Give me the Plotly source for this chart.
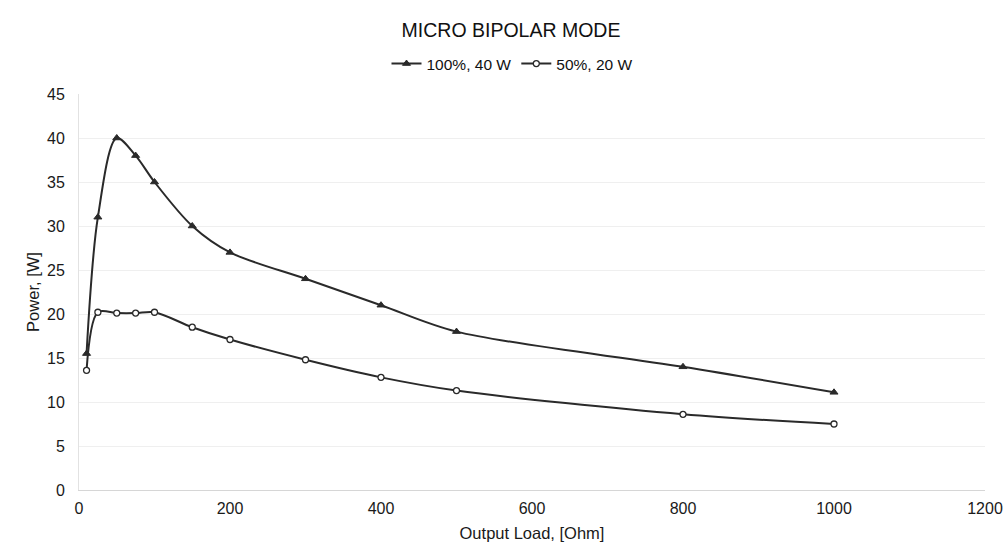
import plotly.graph_objects as go

load_ohm = [10, 25, 50, 75, 100, 150, 200, 300, 400, 500, 800, 1000]
power_100 = [15.5, 31, 40, 38, 35, 30, 27, 24, 21, 18, 14, 11.1]
power_50 = [13.6, 20.2, 20.1, 20.1, 20.2, 18.5, 17.1, 14.8, 12.8, 11.3, 8.6, 7.5]

x_ticks = [0, 200, 400, 600, 800, 1000, 1200]
y_ticks = [0, 5, 10, 15, 20, 25, 30, 35, 40, 45]

line_color = "#2a2a2a"
font_family = "Liberation Sans, Arial, sans-serif"

fig = go.Figure()
fig.add_trace(go.Scatter(
    x=load_ohm, y=power_100, name="100%, 40 W",
    mode="lines+markers",
    line=dict(color=line_color, width=2, shape="spline", smoothing=0.9),
    marker=dict(symbol="triangle-up", size=7, color=line_color,
                line=dict(color=line_color, width=1)),
))
fig.add_trace(go.Scatter(
    x=load_ohm, y=power_50, name="50%, 20 W",
    mode="lines+markers",
    line=dict(color=line_color, width=2, shape="spline", smoothing=0.9),
    marker=dict(symbol="circle", size=6, color="white",
                line=dict(color=line_color, width=1.3)),
))

fig.update_layout(
    width=1007, height=555,
    margin=dict(l=79, r=22, t=94, b=65, autoexpand=False),
    paper_bgcolor="white", plot_bgcolor="white",
    font=dict(family=font_family, size=16, color="#1a1a1a"),
    title=dict(text="MICRO BIPOLAR MODE", x=511/1007, xanchor="center",
               y=1 - 30/555, yanchor="middle",
               font=dict(size=19.5, color="#111")),
    legend=dict(orientation="h", x=(512-79)/906, xanchor="center",
                y=1 + 30/396, yanchor="middle",
                font=dict(size=15.5, color="#111"),
                bgcolor="rgba(0,0,0,0)", itemwidth=30),
    showlegend=True,
)
fig.update_xaxes(
    range=[0, 1200], tickvals=x_ticks, ticktext=[str(v) for v in x_ticks],
    showgrid=False, zeroline=False, automargin=False,
    showline=True, linecolor="#d6d6d6", linewidth=1,
    ticks="outside", ticklen=4, tickcolor="rgba(0,0,0,0)",
    title=dict(text="Output Load, [Ohm]", font=dict(size=16.5), standoff=11),
    tickfont=dict(size=16),
)
fig.update_yaxes(
    range=[0, 45], tickvals=y_ticks, ticktext=[str(v) for v in y_ticks],
    showgrid=True, gridcolor="#efefef", gridwidth=1, zeroline=False, automargin=False,
    showline=True, linecolor="#e2e2e2", linewidth=1,
    ticks="outside", ticklen=10, tickcolor="rgba(0,0,0,0)",
    title=dict(text="Power, [W]", font=dict(size=16.5), standoff=3),
    tickfont=dict(size=16),
)

fig.write_html("out.html")
